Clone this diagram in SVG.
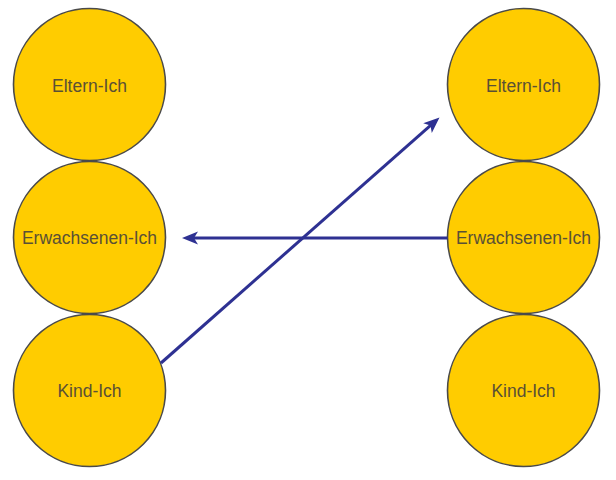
<svg xmlns="http://www.w3.org/2000/svg" width="616" height="480" viewBox="0 0 616 480">
  <style>
    .node circle { fill: #FFCC00; stroke: #4a4a4a; stroke-width: 1.6; }
    .node text { font-family: "Liberation Sans", Arial, sans-serif; font-size: 17.5px; fill: #5a5035; text-anchor: middle; }
    .conn { stroke: #2e3192; stroke-width: 3; fill: none; marker-end: url(#arrow); }
  </style>
  <defs>
    <marker id="arrow" markerUnits="userSpaceOnUse" markerWidth="18" markerHeight="14" refX="6" refY="6.5" orient="auto">
      <path d="M0,0 L16,6.5 L0,13 L4,6.5 Z" fill="#2e3192"/>
    </marker>
  </defs>
  <rect width="616" height="480" fill="#ffffff"/>

  <g id="left-eltern" class="node">
    <circle cx="89.5" cy="84.5" r="76"/>
    <text x="89.5" y="91.5">Eltern-Ich</text>
  </g>
  <g id="left-erwachsenen" class="node">
    <circle cx="89.5" cy="237.5" r="76"/>
    <text x="89.5" y="244.3">Erwachsenen-Ich</text>
  </g>
  <g id="left-kind" class="node">
    <circle cx="89.5" cy="390.5" r="76"/>
    <text x="89.5" y="397">Kind-Ich</text>
  </g>

  <g id="right-eltern" class="node">
    <circle cx="523.5" cy="84.5" r="76"/>
    <text x="523.5" y="91.5">Eltern-Ich</text>
  </g>
  <g id="right-erwachsenen" class="node">
    <circle cx="523.5" cy="237.5" r="76"/>
    <text x="523.5" y="244.3">Erwachsenen-Ich</text>
  </g>
  <g id="right-kind" class="node">
    <circle cx="523.5" cy="390.5" r="76"/>
    <text x="523.5" y="397">Kind-Ich</text>
  </g>

  <g id="connectors">
    <line class="conn" x1="447.5" y1="238" x2="192" y2="238"/>
    <line class="conn" x1="161" y1="363" x2="432" y2="124.1"/>
  </g>
</svg>
